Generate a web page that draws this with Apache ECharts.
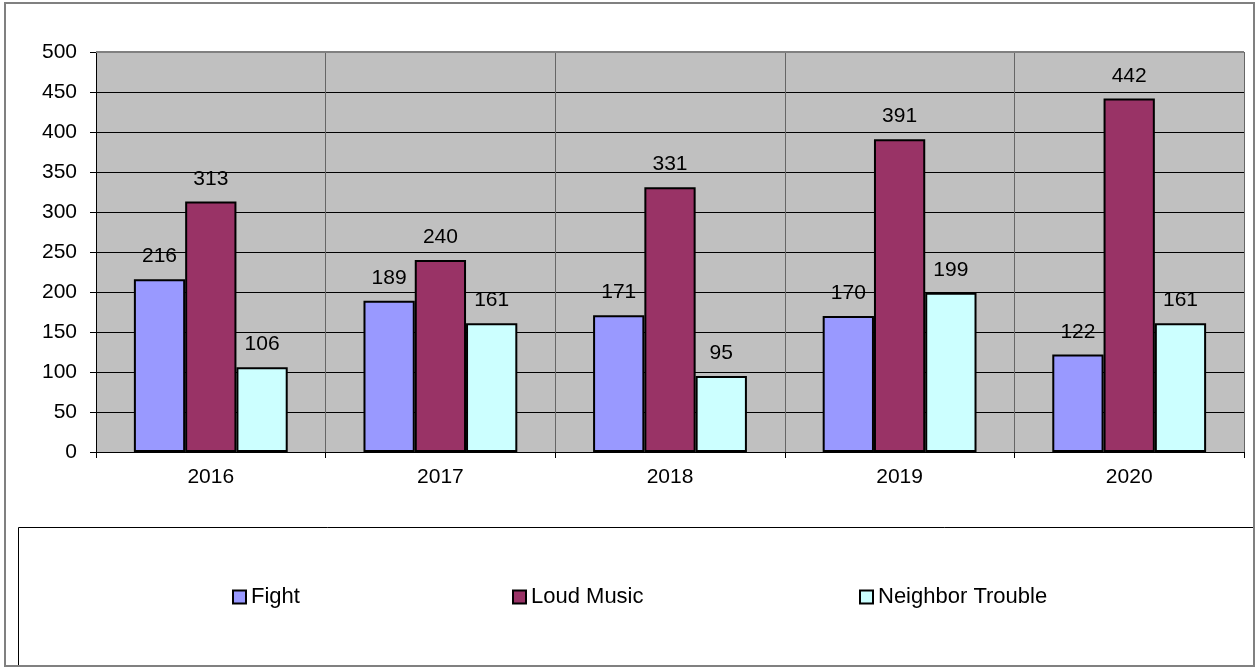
<!DOCTYPE html>
<html><head><meta charset="utf-8">
<script src="https://cdn.jsdelivr.net/npm/echarts@6/dist/echarts.min.js"></script>
<style>html,body{margin:0;padding:0;background:#fff}#c{width:1255px;height:668px}</style>
</head><body><div id="c"></div>
<script>
const years = ['2016','2017','2018','2019','2020'];
const fight = [216,189,171,170,122];
const loudMusic = [313,240,331,391,442];
const neighborTrouble = [106,161,95,199,161];
const yTicks = {min:0,max:500,interval:50};

const font = 'Liberation Sans, Arial, sans-serif';
const chart = echarts.init(document.getElementById('c'));
function ser(name, data, color){
  return {name, type:'bar', data, barGap:'0%', barCategoryGap:'33%',
    itemStyle:{color, borderColor:'#000', borderWidth:2},
    label:{show:true, position:'top', distance:12, color:'#000', fontSize:21, fontFamily:font}};
}
function leg(name, left){
  return {data:[name], left, top:581, itemWidth:13, itemHeight:13, itemGap:4,
    icon:'rect', textStyle:{color:'#000', fontSize:22, fontFamily:font, padding:[0,0,0,0]},
    itemStyle:{borderColor:'#000', borderWidth:2}};
}
chart.setOption({
  animation:false,
  backgroundColor:'#fff',
  graphic:[
    {type:'rect', shape:{x:18.5,y:527.5,width:1235,height:138}, style:{fill:'#fff',stroke:'#000',lineWidth:1}, z:-1},
    {type:'rect', shape:{x:5,y:3,width:1249,height:663}, style:{fill:'none',stroke:'#808080',lineWidth:2}, z:-1},
    {type:'rect', shape:{x:96,y:52,width:1148,height:400}, style:{fill:'#C0C0C0'}, z:-2},
    {type:'line', shape:{x1:96,y1:52,x2:1244,y2:52}, style:{stroke:'#808080',lineWidth:2}, z:100}
  ],
  grid:{left:96, right:11, top:52, bottom:216, show:false},
  legend:[leg('Fight',227), leg('Loud Music',507), leg('Neighbor Trouble',854)],
  xAxis:{type:'category', data:years, boundaryGap:true,
    axisLine:{lineStyle:{color:'#000',width:1}},
    axisTick:{show:true, length:6, lineStyle:{color:'#000'}},
    axisLabel:{color:'#000', fontSize:21, fontFamily:font, margin:15},
    splitLine:{show:true, lineStyle:{color:'#666',width:1}}},
  yAxis:{type:'value', min:yTicks.min, max:yTicks.max, interval:yTicks.interval,
    axisLine:{show:true, lineStyle:{color:'#000'}},
    axisTick:{show:true, length:6, lineStyle:{color:'#000'}},
    axisLabel:{color:'#000', fontSize:21, fontFamily:font, margin:19},
    splitLine:{show:true, lineStyle:{color:'#000',width:1}}},
  series:[ser('Fight',fight,'#9999FF'), ser('Loud Music',loudMusic,'#993366'), ser('Neighbor Trouble',neighborTrouble,'#CCFFFF')]
});
</script></body></html>
